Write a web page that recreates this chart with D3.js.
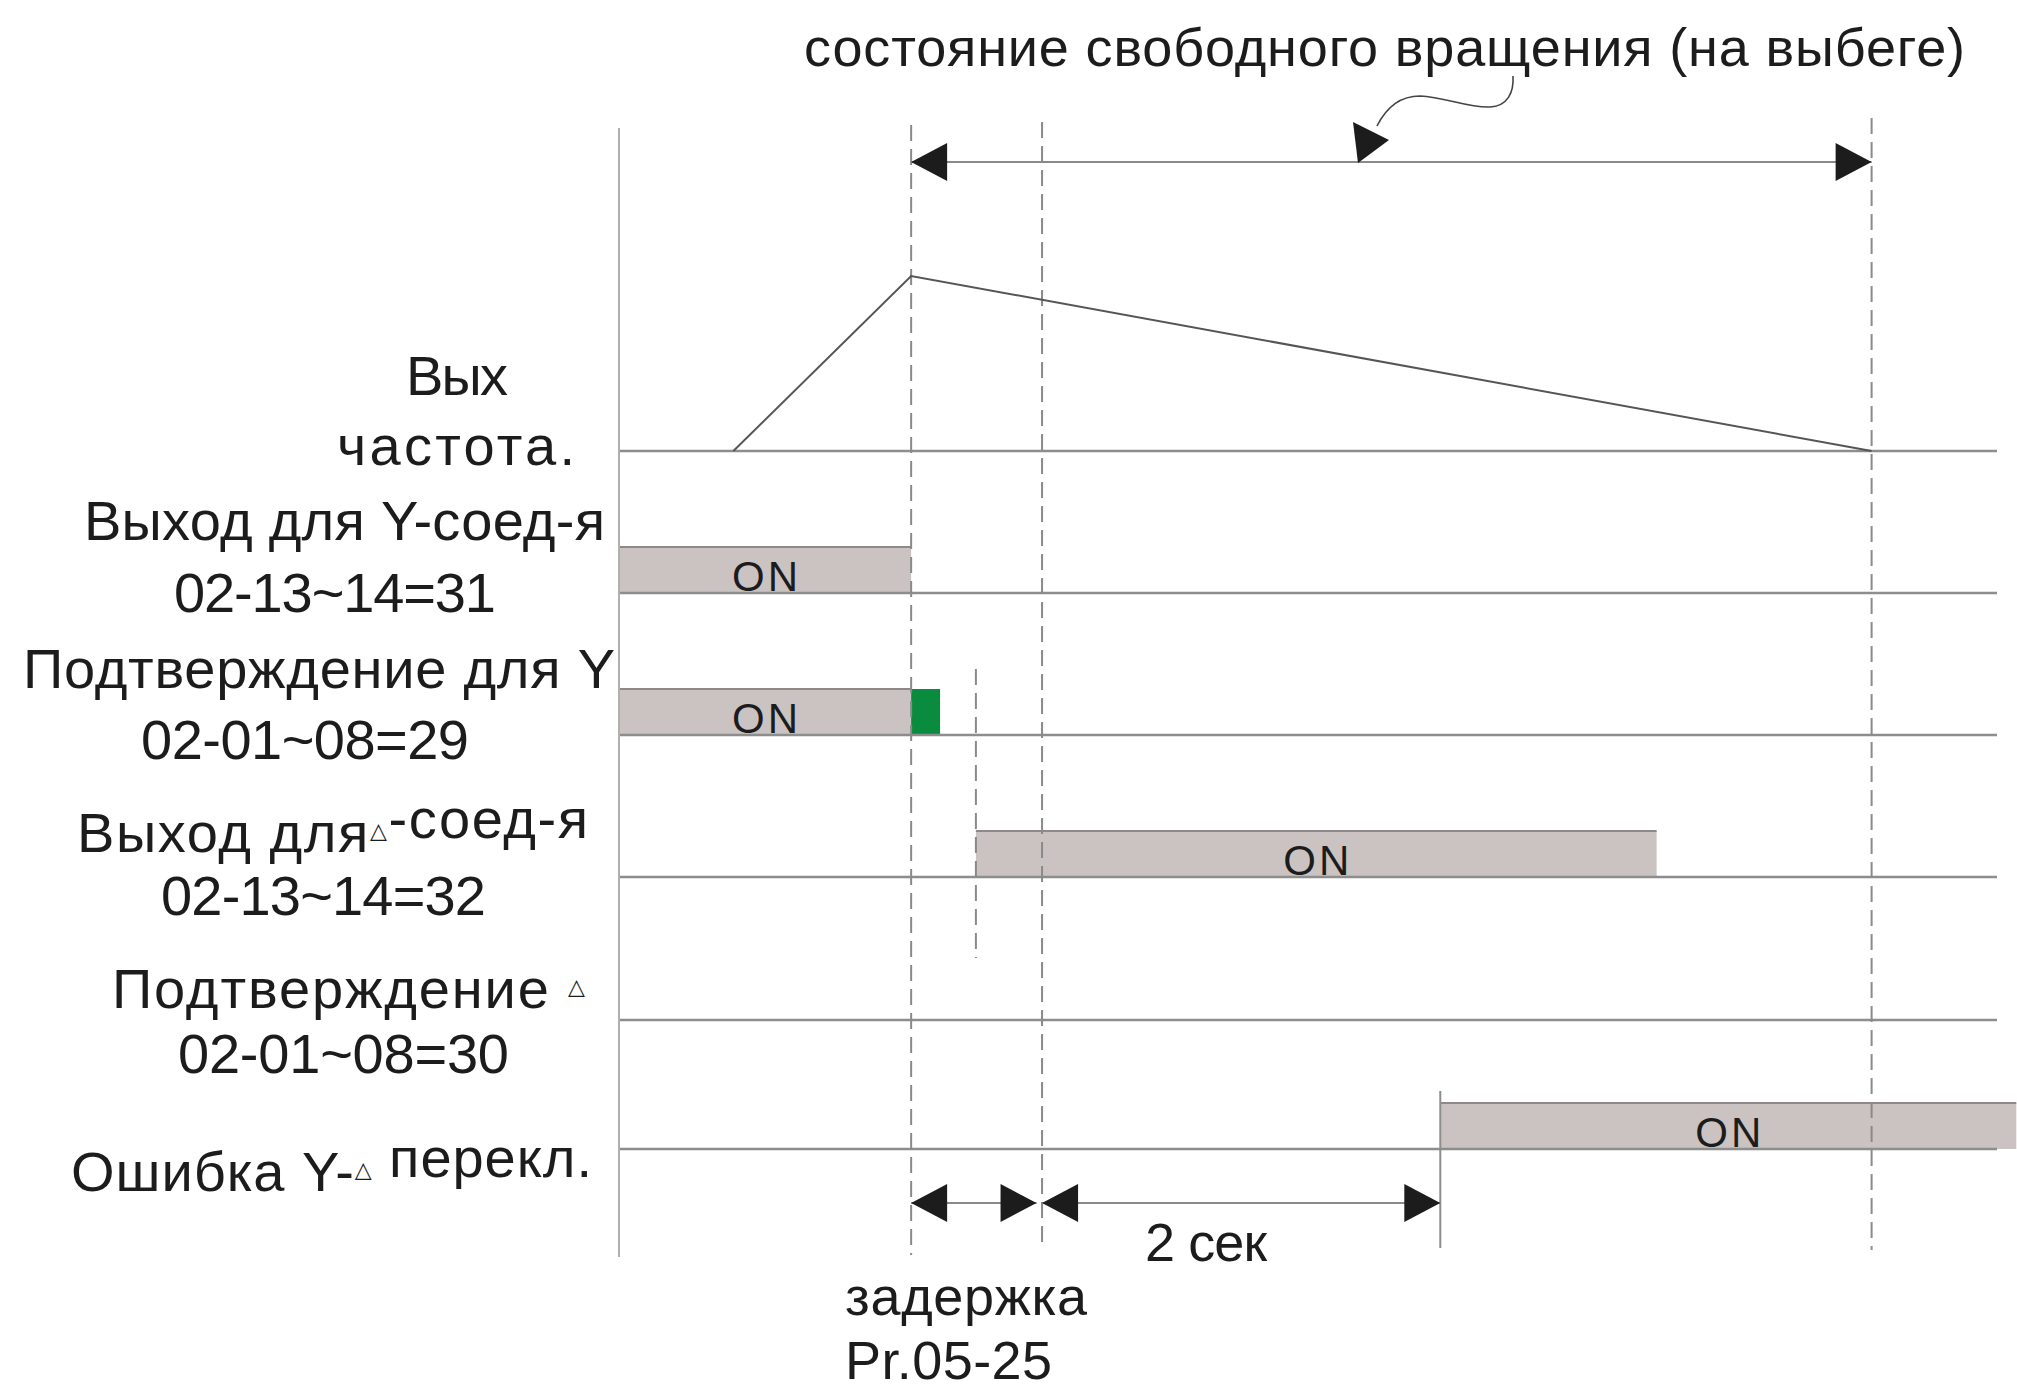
<!DOCTYPE html>
<html lang="ru">
<head>
<meta charset="UTF-8">
<title>Переключение Y-Δ</title>
<script src="https://cdn.jsdelivr.net/npm/d3@7/dist/d3.min.js"></script>
<style>
    body { margin: 0; background: #fff; }
    text { font-family: "Liberation Sans", Arial, sans-serif; fill: #1c1c1c; }
</style>
</head>
<body>
<script>
    // --- data ---------------------------------------------------------
    // time is in arbitrary units 0..100 along the diagram
    var rows = ['freq', 'yOut', 'yConf', 'dOut', 'dConf', 'err']
    var rowLabels = [
        ['Вых', 'частота.'],
        ['Выход для Y-соед-я', '02-13~14=31'],
        ['Подтверждение для Y', '02-01~08=29'],
        ['Выход для△-соед-я', '02-13~14=32'],
        ['Подтверждение △', '02-01~08=30'],
        ['Ошибка Y-△ перекл.']
    ]
    var freqTimes = [8.3, 21.2, 90.9]
    var freqLevels = [0, 1, 0]
    var onRows = ['yOut', 'yConf', 'dOut', 'err']
    var onStart = [0, 0, 25.9, 59.6]
    var onEnd = [21.2, 21.2, 75.3, 101.4]
    var greenRow = ['yConf']
    var greenStart = [21.2]
    var greenEnd = [23.3]
    var dashedTimes = [21.2, 30.7, 90.9]
    var shortDashTime = [25.9]
    var errorEdgeTime = [59.6]
    var coastSpan = [21.2, 90.9]
    var delaySpan = [21.2, 30.3]
    var twoSecSpan = [30.7, 59.6]
    var titleText = 'состояние свободного вращения (на выбеге)'
    var twoSecText = '2 сек'
    var delayText = ['задержка', 'Pr.05-25']

    // --- layout -------------------------------------------------------
    var width = 2017
    var height = 1392

    var svg = d3.select('body').append('svg')
        .attr('width', width)
        .attr('height', height)

    var x = d3.scaleLinear().domain([0, 100]).range([619, 1997])
    var rowY = d3.scaleOrdinal().domain(rows).range([451, 593, 735, 877, 1020, 1149])
    var freqY = d3.scaleLinear().domain([0, 1]).range([451, 276])

    // left edge, offset from the row baseline, and printed width of each label line
    var labelLayout = [
        [{x: 406, dy: -56, w: 102}, {x: 337, dy: 14, w: 238}],
        [{x: 84, dy: -53, w: 521}, {x: 174, dy: 19, w: 322}],
        [{x: 23, dy: -47, w: 592}, {x: 141, dy: 24, w: 328}],
        [{x: 77, dy: -25, w: 511}, {x: 161, dy: 38, w: 325}],
        [{x: 112, dy: -12, w: 473}, {x: 178, dy: 53, w: 331}],
        [{x: 71, dy: 42, w: 521}]
    ]

    var barH = 46
    var lineGrey = '#8d8d8d'
    var dark = '#1c1c1c'

    function arrowHead(g, tipX, y, dir) {
        // dir = -1 points left, 1 points right
        var L = 36, H = 19
        g.append('path')
            .attr('d', 'M' + tipX + ',' + y + 'L' + (tipX - dir * L) + ',' + (y - H) +
                'L' + (tipX - dir * L) + ',' + (y + H) + 'Z')
            .attr('fill', dark)
    }

    // --- bars ---------------------------------------------------------
    var bars = svg.append('g')
    bars.selectAll('rect.on')
        .data(onRows)
        .enter().append('rect')
        .attr('class', 'on')
        .attr('x', function (d, i) { return x(onStart[i]) })
        .attr('y', function (d) { return rowY(d) - barH })
        .attr('width', function (d, i) { return x(onEnd[i]) - x(onStart[i]) })
        .attr('height', barH)
        .attr('fill', '#cbc3c1')
    bars.selectAll('line.top')
        .data(onRows)
        .enter().append('line')
        .attr('x1', function (d, i) { return x(onStart[i]) })
        .attr('x2', function (d, i) { return x(onEnd[i]) })
        .attr('y1', function (d) { return rowY(d) - barH })
        .attr('y2', function (d) { return rowY(d) - barH })
        .attr('stroke', '#8e8888')
        .attr('stroke-width', 2)
    bars.selectAll('text')
        .data(onRows)
        .enter().append('text')
        .attr('x', function (d, i) { return (x(onStart[i]) + Math.min(x(onEnd[i]), width)) / 2 })
        .attr('y', function (d) { return rowY(d) - 2 })
        .attr('text-anchor', 'middle')
        .attr('font-size', 42)
        .attr('textLength', 66)
        .attr('lengthAdjust', 'spacing')
        .text('ON')
    bars.selectAll('rect.green')
        .data(greenRow)
        .enter().append('rect')
        .attr('x', function (d, i) { return x(greenStart[i]) })
        .attr('y', function (d) { return rowY(d) - barH })
        .attr('width', function (d, i) { return x(greenEnd[i]) - x(greenStart[i]) })
        .attr('height', barH)
        .attr('fill', '#0a8c3e')

    // --- baselines and verticals --------------------------------------
    svg.append('g').selectAll('line')
        .data(rows)
        .enter().append('line')
        .attr('x1', x(0))
        .attr('x2', x(100))
        .attr('y1', function (d) { return rowY(d) })
        .attr('y2', function (d) { return rowY(d) })
        .attr('stroke', lineGrey)
        .attr('stroke-width', 2.5)

    svg.append('line')
        .attr('x1', x(0)).attr('x2', x(0))
        .attr('y1', 128).attr('y2', 1257)
        .attr('stroke', '#b0b0b0').attr('stroke-width', 2)

    svg.selectAll('line.edge')
        .data(errorEdgeTime)
        .enter().append('line')
        .attr('x1', function (d) { return x(d) }).attr('x2', function (d) { return x(d) })
        .attr('y1', 1091).attr('y2', 1248)
        .attr('stroke', lineGrey).attr('stroke-width', 2)

    var dashTop = [125, 122, 118]
    var dashBottom = [1255, 1243, 1250]
    svg.selectAll('line.dash')
        .data(dashedTimes)
        .enter().append('line')
        .attr('x1', function (d) { return x(d) }).attr('x2', function (d) { return x(d) })
        .attr('y1', function (d, i) { return dashTop[i] })
        .attr('y2', function (d, i) { return dashBottom[i] })
        .attr('stroke', '#8a8a8a').attr('stroke-width', 2)
        .attr('stroke-dasharray', '16,8')

    svg.selectAll('line.sdash')
        .data(shortDashTime)
        .enter().append('line')
        .attr('x1', function (d) { return x(d) }).attr('x2', function (d) { return x(d) })
        .attr('y1', 669).attr('y2', 958)
        .attr('stroke', '#8a8a8a').attr('stroke-width', 2)
        .attr('stroke-dasharray', '16,8')

    // --- output frequency ---------------------------------------------
    var freqLine = d3.line()
        .x(function (d) { return x(d[0]) })
        .y(function (d) { return freqY(d[1]) })
    svg.append('path')
        .datum(d3.zip(freqTimes, freqLevels))
        .attr('d', freqLine)
        .attr('fill', 'none')
        .attr('stroke', '#555')
        .attr('stroke-width', 2)

    // --- dimension arrows ---------------------------------------------
    var dims = svg.append('g')
    function dimension(span, y) {
        dims.append('line')
            .attr('x1', x(span[0])).attr('x2', x(span[1]))
            .attr('y1', y).attr('y2', y)
            .attr('stroke', '#8a8a8a').attr('stroke-width', 2)
        arrowHead(dims, x(span[0]), y, -1)
        arrowHead(dims, x(span[1]), y, 1)
    }
    dimension(coastSpan, 162)
    dimension(delaySpan, 1203)
    dimension(twoSecSpan, 1203)

    // pointer from the title to the coasting span
    dims.append('path')
        .attr('d', 'M1513,76 C1514,92 1508,106 1490,107 C1468,108 1445,97 1420,96 C1400,96 1386,108 1377,126')
        .attr('fill', 'none')
        .attr('stroke', '#444')
        .attr('stroke-width', 1.6)
    dims.append('path')
        .attr('d', 'M1353,122 L1389,140 L1358,163 Z')
        .attr('fill', dark)

    // --- texts --------------------------------------------------------
    svg.append('text')
        .attr('x', 804).attr('y', 66)
        .attr('font-size', 54)
        .attr('textLength', 1161)
        .attr('lengthAdjust', 'spacing')
        .text(titleText)

    var labels = svg.append('g')
    rowLabels.forEach(function (lines, r) {
        lines.forEach(function (s, k) {
            var lay = labelLayout[r][k]
            var t = labels.append('text')
                .attr('x', lay.x)
                .attr('y', rowY(rows[r]) + lay.dy)
                .attr('font-size', 56)
                .attr('textLength', lay.w)
                .attr('lengthAdjust', 'spacing')
            s.split(/(△)/).forEach(function (part) {
                if (part === '△') {
                    t.append('tspan')
                        .attr('font-size', 22)
                        .attr('font-family', 'DejaVu Sans')
                        .attr('dy', -14)
                        .text(part)
                    t.append('tspan').attr('dy', 14).text('')
                } else if (part) {
                    t.append('tspan').text(part)
                }
            })
        })
    })

    svg.append('text')
        .attr('x', 1145)
        .attr('y', 1261)
        .attr('font-size', 54)
        .attr('textLength', 122)
        .attr('lengthAdjust', 'spacing')
        .text(twoSecText)

    var delayW = [242, 207]
    svg.selectAll('text.delay')
        .data(delayText)
        .enter().append('text')
        .attr('x', 845)
        .attr('y', function (d, i) { return 1315 + i * 64 })
        .attr('font-size', 54)
        .attr('textLength', function (d, i) { return delayW[i] })
        .attr('lengthAdjust', 'spacing')
        .text(function (d) { return d })
</script>
</body>
</html>
